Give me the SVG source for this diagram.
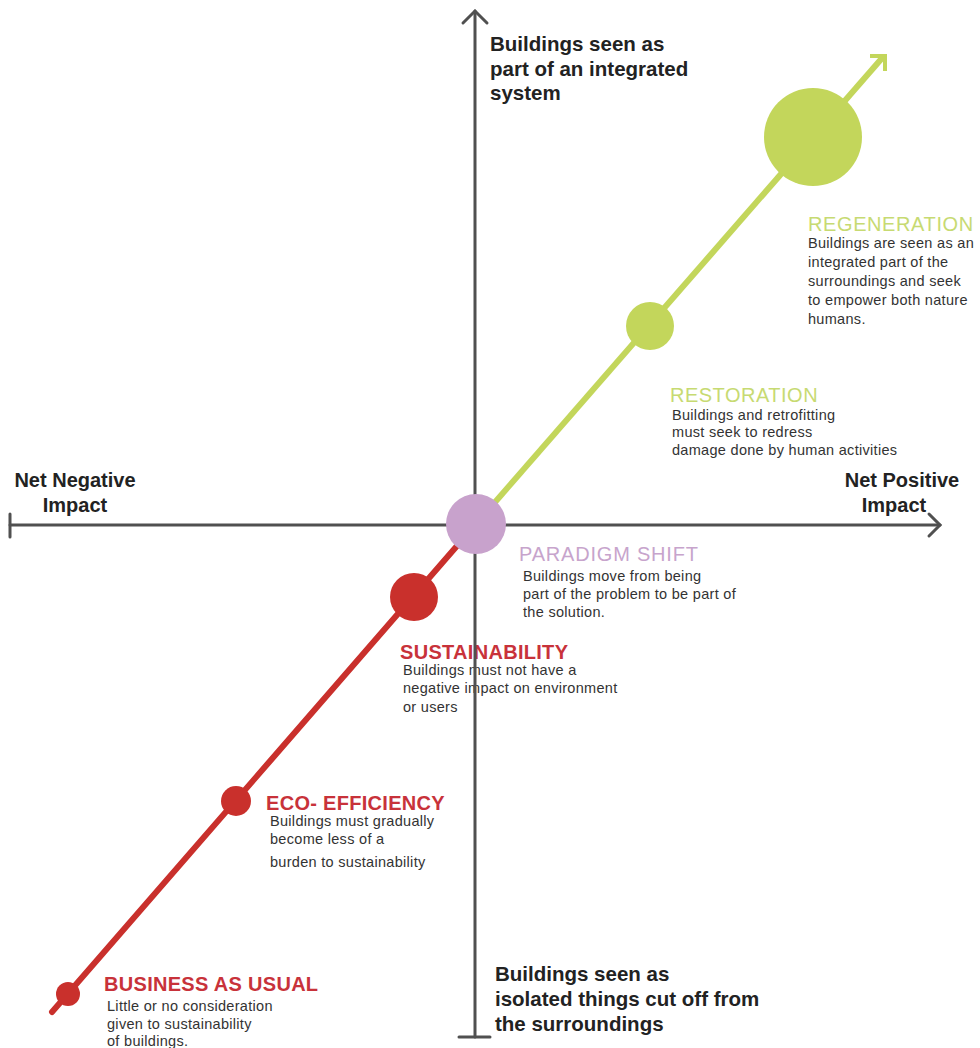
<svg xmlns="http://www.w3.org/2000/svg" width="980" height="1048" viewBox="0 0 980 1048">
<style>
.ax{stroke:#505050;stroke-width:3;fill:none;stroke-linecap:round}
.axlbl{font-family:"Liberation Sans",Arial,sans-serif;font-weight:bold;font-size:20.5px;fill:#222}
.side{font-size:20px}
.title{font-family:"Liberation Sans",Arial,sans-serif;font-size:20px}
.red{fill:#c8323a;font-weight:bold;letter-spacing:0.3px}
.green{fill:#c7da72}
.lav{fill:#c7a4cc}
.body{font-family:"Liberation Sans",Arial,sans-serif;font-size:14.5px;letter-spacing:0.3px;fill:#333}
</style>
<rect width="980" height="1048" fill="#ffffff"/>
<g id="labels">
<text class="axlbl" x="490" y="51">Buildings seen as</text>
<text class="axlbl" x="490" y="76">part of an integrated</text>
<text class="axlbl" x="490" y="100">system</text>
<text class="axlbl" x="495" y="981">Buildings seen as</text>
<text class="axlbl" x="495" y="1006">isolated things cut off from</text>
<text class="axlbl" x="495" y="1031">the surroundings</text>
<text class="axlbl side" x="75" y="487" text-anchor="middle">Net Negative</text>
<text class="axlbl side" x="75" y="512" text-anchor="middle">Impact</text>
<text class="axlbl side" x="902" y="487" text-anchor="middle">Net Positive</text>
<text class="axlbl side" x="894" y="512" text-anchor="middle">Impact</text>
</g>
<g id="regeneration-text">
<text class="title green" x="808" y="231" letter-spacing="0.6">REGENERATION</text>
<text class="body" x="808" y="248">Buildings are seen as an</text>
<text class="body" x="808" y="267">integrated part of the</text>
<text class="body" x="808" y="286">surroundings and seek</text>
<text class="body" x="808" y="305">to empower both nature</text>
<text class="body" x="808" y="324">humans.</text>
</g>
<g id="restoration-text">
<text class="title green" x="670" y="402" letter-spacing="0.5">RESTORATION</text>
<text class="body" x="672" y="420">Buildings and retrofitting</text>
<text class="body" x="672" y="437">must seek to redress</text>
<text class="body" x="672" y="455">damage done by human activities</text>
</g>
<g id="paradigm-text">
<text class="title lav" x="519" y="561" letter-spacing="0.8">PARADIGM SHIFT</text>
<text class="body" x="523" y="581">Buildings move from being</text>
<text class="body" x="523" y="599">part of the problem to be part of</text>
<text class="body" x="523" y="617">the solution.</text>
</g>
<g id="sustainability-text">
<text class="title red" x="400" y="659">SUSTAINABILITY</text>
<text class="body" x="403" y="675">Buildings must not have a</text>
<text class="body" x="403" y="693">negative impact on environment</text>
<text class="body" x="403" y="712">or users</text>
</g>
<g id="eco-text">
<text class="title red" x="266" y="810">ECO- EFFICIENCY</text>
<text class="body" x="270" y="826">Buildings must gradually</text>
<text class="body" x="270" y="844">become less of a</text>
<text class="body" x="270" y="867">burden to sustainability</text>
</g>
<g id="bau-text">
<text class="title red" x="104" y="991">BUSINESS AS USUAL</text>
<text class="body" x="107" y="1011">Little or no consideration</text>
<text class="body" x="107" y="1029">given to sustainability</text>
<text class="body" x="107" y="1046">of buildings.</text>
</g>
<g id="connectors">
<line class="ax" x1="475" y1="11" x2="475" y2="1037"/>
<polyline class="ax" points="463,23 475,11 487,23"/>
<line class="ax" x1="459" y1="1037" x2="490" y2="1037"/>
<line class="ax" x1="10" y1="525" x2="940" y2="525"/>
<polyline class="ax" points="929,514 940,525 929,536"/>
<line class="ax" x1="10" y1="514" x2="10" y2="537"/>
<line x1="52" y1="1012" x2="476" y2="524" stroke="#c9302c" stroke-width="6" stroke-linecap="round"/>
<line x1="476" y1="524" x2="883" y2="57" stroke="#c3d65b" stroke-width="6"/>
<polyline points="870,56 885,56 885,71" fill="none" stroke="#c3d65b" stroke-width="4"/>
</g>
<g id="bau"><circle cx="68" cy="994" r="12" fill="#c9302c"/></g>
<g id="eco"><circle cx="236" cy="801" r="15" fill="#c9302c"/></g>
<g id="sustainability"><circle cx="414" cy="597" r="24" fill="#c9302c"/></g>
<g id="paradigm"><circle cx="476" cy="524" r="30" fill="#c8a2cc"/></g>
<g id="restoration"><circle cx="650" cy="326" r="24" fill="#c3d65b"/></g>
<g id="regeneration"><circle cx="813" cy="137" r="49" fill="#c3d65b"/></g>
</svg>
